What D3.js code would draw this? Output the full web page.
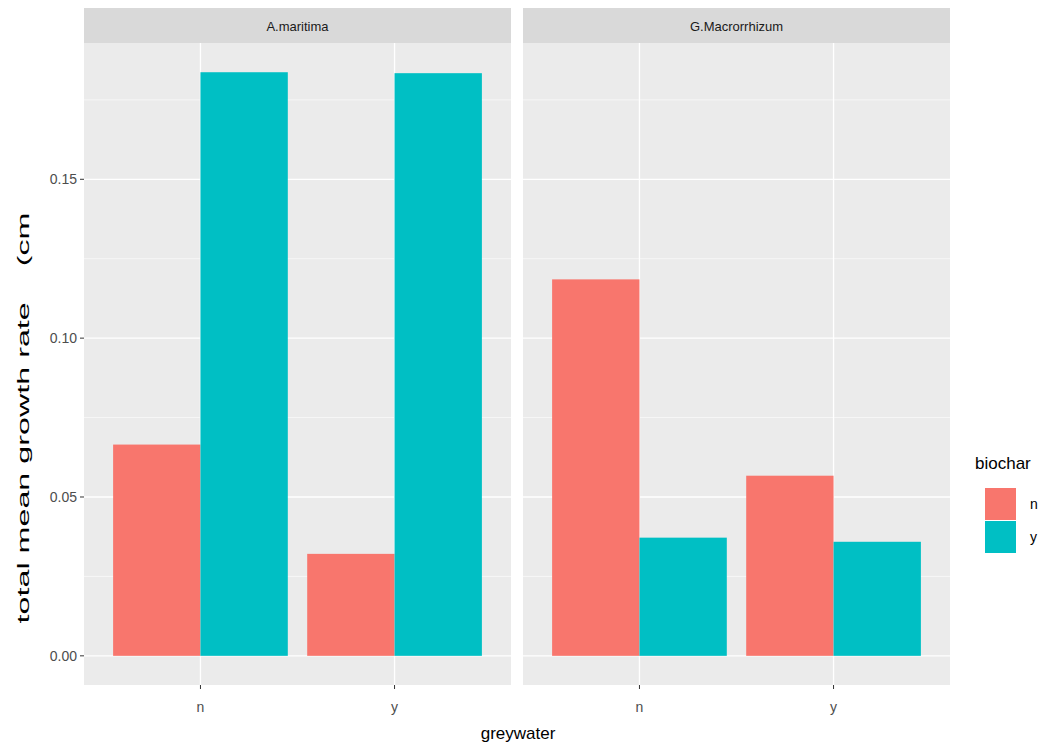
<!DOCTYPE html>
<html><head><meta charset="utf-8">
<script src="https://cdn.jsdelivr.net/npm/d3@7"></script>
<style>body{margin:0;background:#fff}text{font-family:"Liberation Sans",Arial,sans-serif}</style>
</head><body><svg id="c" width="1063" height="746"></svg>
<script>
const facets = ["A.maritima","G.Macrorrhizum"];
const greywater = ["n","y"];
const biochar = ["n","y"];
const valuesBiocharN = [[0.0665,0.0321],[0.1185,0.0567]];
const valuesBiocharY = [[0.1837,0.1834],[0.0372,0.0359]];
const yTicks = [0,0.05,0.10,0.15];
const yTickLabels = ["0.00","0.05","0.10","0.15"];
const colors = {n:"#F8766D", y:"#00BFC4"};

const svg = d3.select("#c");
const panelX = [84,523], panelW = 427, pTop = 43, pBottom = 685;
const y = d3.scaleLinear().domain([-0.00918,0.1929]).range([pBottom,pTop]);
const x = d3.scaleLinear().domain([0.4,2.6]).range([0,panelW]);

facets.forEach((f,fi)=>{
  const g = svg.append("g").attr("transform",`translate(${panelX[fi]},0)`);
  g.append("rect").attr("x",0).attr("y",8).attr("width",panelW).attr("height",35).attr("fill","#D9D9D9");
  g.append("text").attr("x",panelW/2).attr("y",31).attr("text-anchor","middle").attr("font-size",13).attr("fill","#1a1a1a").text(f);
  g.append("rect").attr("x",0).attr("y",pTop).attr("width",panelW).attr("height",pBottom-pTop).attr("fill","#EBEBEB");
  const minor = [0.025,0.075,0.125,0.175];
  minor.forEach(v=>g.append("line").attr("x1",0).attr("x2",panelW).attr("y1",y(v)).attr("y2",y(v)).attr("stroke","#fff").attr("stroke-width",0.6));
  yTicks.forEach(v=>g.append("line").attr("x1",0).attr("x2",panelW).attr("y1",y(v)).attr("y2",y(v)).attr("stroke","#fff").attr("stroke-width",1.3));
  greywater.forEach((gw,i)=>{
    g.append("line").attr("x1",x(i+1)).attr("x2",x(i+1)).attr("y1",pTop).attr("y2",pBottom).attr("stroke","#fff").attr("stroke-width",1.3);
  });
  greywater.forEach((gw,i)=>{
    const c = i+1;
    [[valuesBiocharN[fi][i],"n",-0.45],[valuesBiocharY[fi][i],"y",0]].forEach(([v,b,off])=>{
      g.append("rect").attr("x",x(c+off)).attr("width",x(0.85)-x(0.4)).attr("y",y(v)).attr("height",y(0)-y(v)).attr("fill",colors[b]);
    });
    g.append("line").attr("x1",x(c)).attr("x2",x(c)).attr("y1",pBottom).attr("y2",pBottom+4).attr("stroke","#333");
    g.append("text").attr("x",x(c)).attr("y",pBottom+27).attr("text-anchor","middle").attr("font-size",14).attr("fill","#4d4d4d").text(gw);
  });
});
yTicks.forEach((v,i)=>{
  svg.append("line").attr("x1",80).attr("x2",84).attr("y1",y(v)).attr("y2",y(v)).attr("stroke","#333");
  svg.append("text").attr("x",77).attr("y",y(v)+5).attr("text-anchor","end").attr("font-size",14).attr("fill","#4d4d4d").text(yTickLabels[i]);
});
svg.append("text").attr("transform","translate(29,418) rotate(-90) scale(1.9,1)").attr("text-anchor","middle").attr("font-size",17).attr("fill","#000").attr("xml:space","preserve").text("total mean growth rate    (cm");
svg.append("text").attr("x",518).attr("y",739).attr("text-anchor","middle").attr("font-size",17).attr("fill","#000").text("greywater");
svg.append("text").attr("x",975).attr("y",469).attr("font-size",17).attr("fill","#000").text("biochar");
biochar.forEach((b,i)=>{
  svg.append("rect").attr("x",985).attr("y",488+i*33).attr("width",31).attr("height",32).attr("fill",colors[b]);
  svg.append("text").attr("x",1030).attr("y",509+i*33).attr("font-size",14).attr("fill","#000").text(b);
});
</script></body></html>
